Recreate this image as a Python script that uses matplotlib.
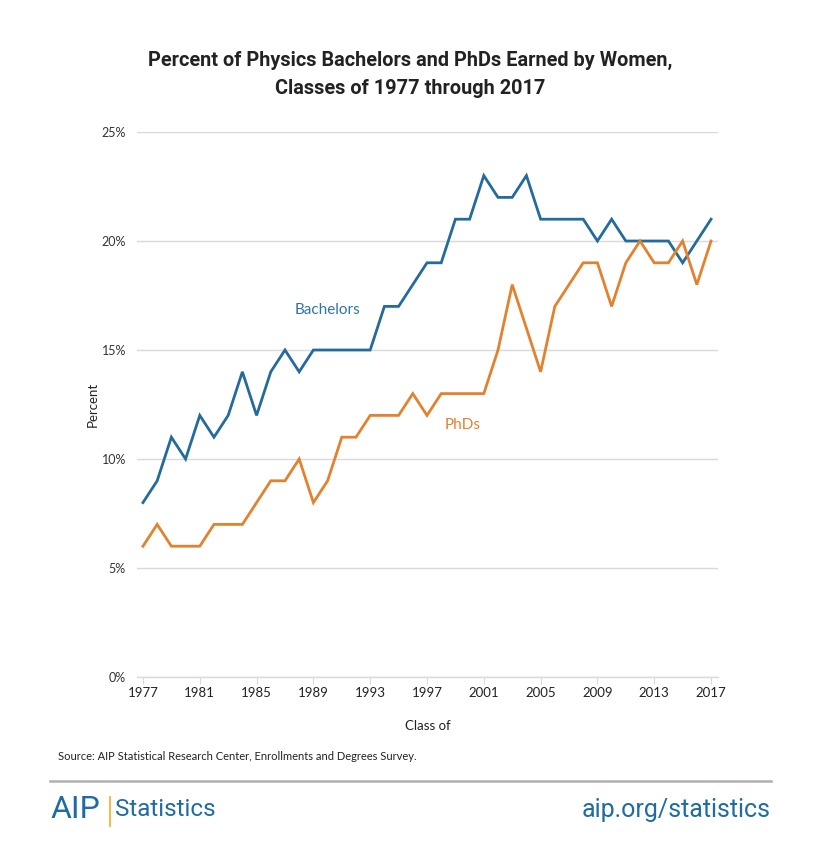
import matplotlib
matplotlib.use("Agg")
import matplotlib.pyplot as plt
from matplotlib.lines import Line2D

years = list(range(1977, 2018))
bachelors = [8, 9, 11, 10, 12, 11, 12, 14, 12, 14, 15, 14, 15, 15, 15, 15, 15, 17, 17, 18,
             19, 19, 21, 21, 23, 22, 22, 23, 21, 21, 21, 21, 20, 21, 20, 20, 20, 20, 19, 20, 21]
phds = [6, 7, 6, 6, 6, 7, 7, 7, 8, 9, 9, 10, 8, 9, 11, 11, 12, 12, 12, 13,
        12, 13, 13, 13, 13, 15, 18, 16, 14, 17, 18, 19, 19, 17, 19, 20, 19, 19, 20, 18, 20]
xticks = list(range(1977, 2018, 4))
yticks = [0, 5, 10, 15, 20, 25]
ytick_labels = ["0%", "5%", "10%", "15%", "20%", "25%"]

BLUE = "#246B9D"
ORANGE = "#E3822E"
TXT = "#333333"
BODY = ["Lato", "DejaVu Sans"]
NARROW = ["Liberation Sans Narrow", "Roboto", "DejaVu Sans"]

fig = plt.figure(figsize=(8.2, 8.59), dpi=100)
ax = fig.add_axes([137/820, 1-677/859, (718-137)/820, (677-132)/859])

ax.plot(years, bachelors, color=BLUE, lw=2.0, solid_joinstyle="miter")
ax.plot(years, phds, color=ORANGE, lw=2.0, solid_joinstyle="miter")

ax.set_xlim(1976.58, 2017.49)
ax.set_ylim(0, 25)
ax.set_yticks(yticks)
ax.set_yticklabels(ytick_labels, family=BODY, fontsize=9, color=TXT)
ax.set_xticks(xticks)
ax.set_xticklabels([str(x) for x in xticks], family=BODY, fontsize=9.5, color="#222222")
ax.grid(axis="y", color="#D9D9D9", lw=1.0)
ax.set_axisbelow(True)
for s in ["top", "right", "left"]:
    ax.spines[s].set_visible(False)
ax.spines["bottom"].set_color("#D9D9D9")
ax.spines["bottom"].set_linewidth(1.0)
ax.tick_params(axis="y", length=0, pad=8)
ax.tick_params(axis="x", length=5, color="#D9D9D9", pad=2)

ax.set_xlabel("Class of", family=BODY, fontsize=9.5, color="#222222", labelpad=15)
ax.set_ylabel("Percent", family=BODY, fontsize=9.5, color="#222222", labelpad=2)

ax.text(1990.0, 16.85, "Bachelors", color="#2F74A8", family=BODY, fontsize=11, ha="center", va="center")
ax.text(1999.5, 11.55, "PhDs", color=ORANGE, family=BODY, fontsize=11, ha="center", va="center")

fig.text(410/820, 1-60/859, "Percent of Physics Bachelors and PhDs Earned by Women,",
         family=NARROW, fontsize=14.3, fontweight="bold", color="#222222", ha="center", va="center")
fig.text(410/820, 1-88/859, "Classes of 1977 through 2017",
         family=NARROW, fontsize=14.3, fontweight="bold", color="#222222", ha="center", va="center")

fig.text(58/820, 1-757/859, "Source: AIP Statistical Research Center, Enrollments and Degrees Survey.",
         family=BODY, fontsize=8, color="#222222", ha="left", va="center")
fig.add_artist(Line2D([50/820, 771/820], [1-781/859, 1-781/859], color="#B0B0B0", lw=1.8,
                      transform=fig.transFigure))

fig.text(51/820, 1-810/859, "AIP", family=["Roboto", "DejaVu Sans"], fontsize=23, color="#1F6CA0",
         ha="left", va="center")
fig.add_artist(Line2D([110/820, 110/820], [1-797/859, 1-826/859], color="#F2B632", lw=1.3,
                      transform=fig.transFigure))
fig.text(115/820, 1-810/859, "Statistics", family=NARROW, fontsize=17.5, color="#1F6CA0",
         ha="left", va="center")
fig.text(771/820, 1-810/859, "aip.org/statistics", family=NARROW, fontsize=18, color="#1F6CA0",
         ha="right", va="center")

fig.savefig("out.png", dpi=100)
